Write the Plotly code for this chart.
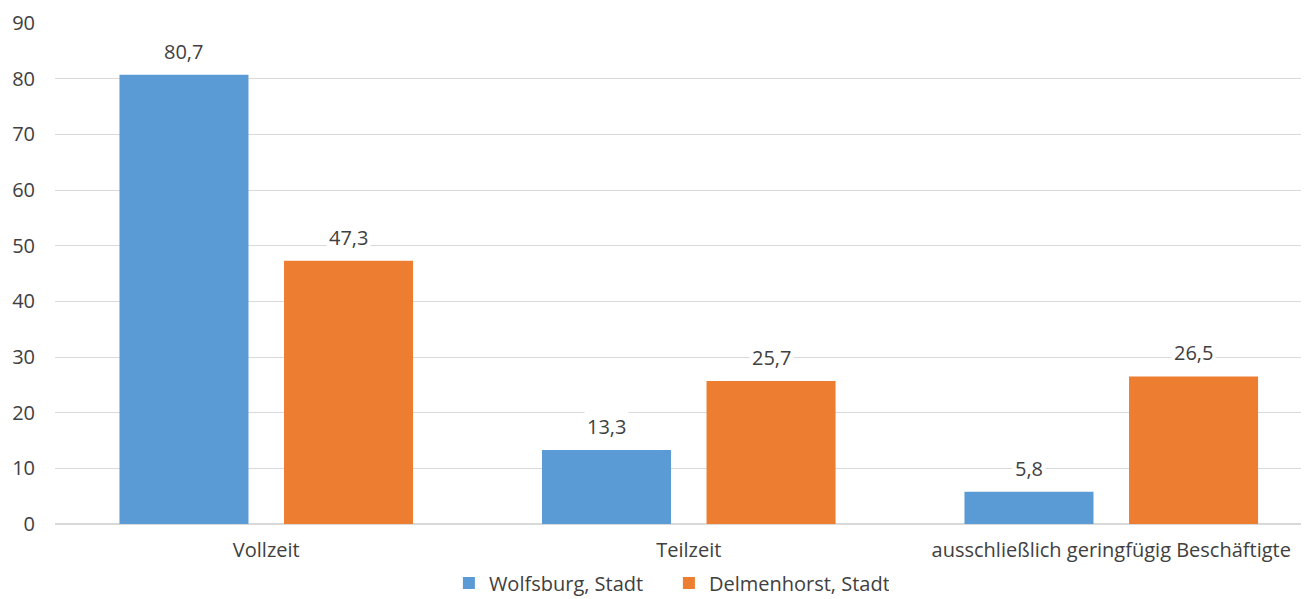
import plotly.graph_objects as go

categories = ["Vollzeit", "Teilzeit", "ausschließlich geringfügig Beschäftigte"]
series_names = ["Wolfsburg, Stadt", "Delmenhorst, Stadt"]
wolfsburg = [80.7, 13.3, 5.8]
delmenhorst = [47.3, 25.7, 26.5]
colors = ["#5B9BD5", "#ED7D31"]
y_ticks = [0, 10, 20, 30, 40, 50, 60, 70, 80, 90]

BARGAP = 0.221
GROUPGAP = 0.216
FONT = "Open Sans"
TXT = "#404040"
FS = 20

fig = go.Figure()
for name, vals, col in zip(series_names, [wolfsburg, delmenhorst], colors):
    fig.add_trace(go.Bar(x=categories, y=vals, name=name, marker_color=col,
                         marker_line_width=0))

slot = (1 - BARGAP) / 2
for s, vals in enumerate([wolfsburg, delmenhorst]):
    for i, v in enumerate(vals):
        xpos = i + (s - 0.5) * slot
        fig.add_annotation(x=xpos, y=v, xref="x", yref="y", text=f"{v:.1f}".replace(".", ","),
                           showarrow=False, yanchor="bottom", yshift=7,
                           bgcolor="white", borderpad=2,
                           font=dict(family=FONT, size=FS, color=TXT))

fig.update_layout(
    barmode="group", bargap=BARGAP, bargroupgap=GROUPGAP,
    width=1301, height=591,
    margin=dict(l=47, r=0, t=15, b=75, autoexpand=False),
    plot_bgcolor="white", paper_bgcolor="white",
    font=dict(family=FONT, size=FS, color=TXT),
    legend=dict(orientation="h", x=0.508, xanchor="center", xref="container",
                y=0.027, yanchor="middle", yref="container", entrywidth=175,
                font=dict(size=FS, color=TXT), traceorder="normal"),
    xaxis=dict(type="category", range=[-0.5, 2.468], showgrid=False, ticks="",
               tickfont=dict(size=FS), showline=False, zeroline=False,
               ticklabelstandoff=12, automargin=False),
    yaxis=dict(range=[0, 90], tickvals=y_ticks, showgrid=True, gridcolor="#D9D9D9",
               gridwidth=1, zeroline=True, zerolinecolor="#D9D9D9", zerolinewidth=2,
               ticks="", tickfont=dict(size=FS), ticklabelstandoff=19, automargin=False),
)

fig.write_html("out.html")
